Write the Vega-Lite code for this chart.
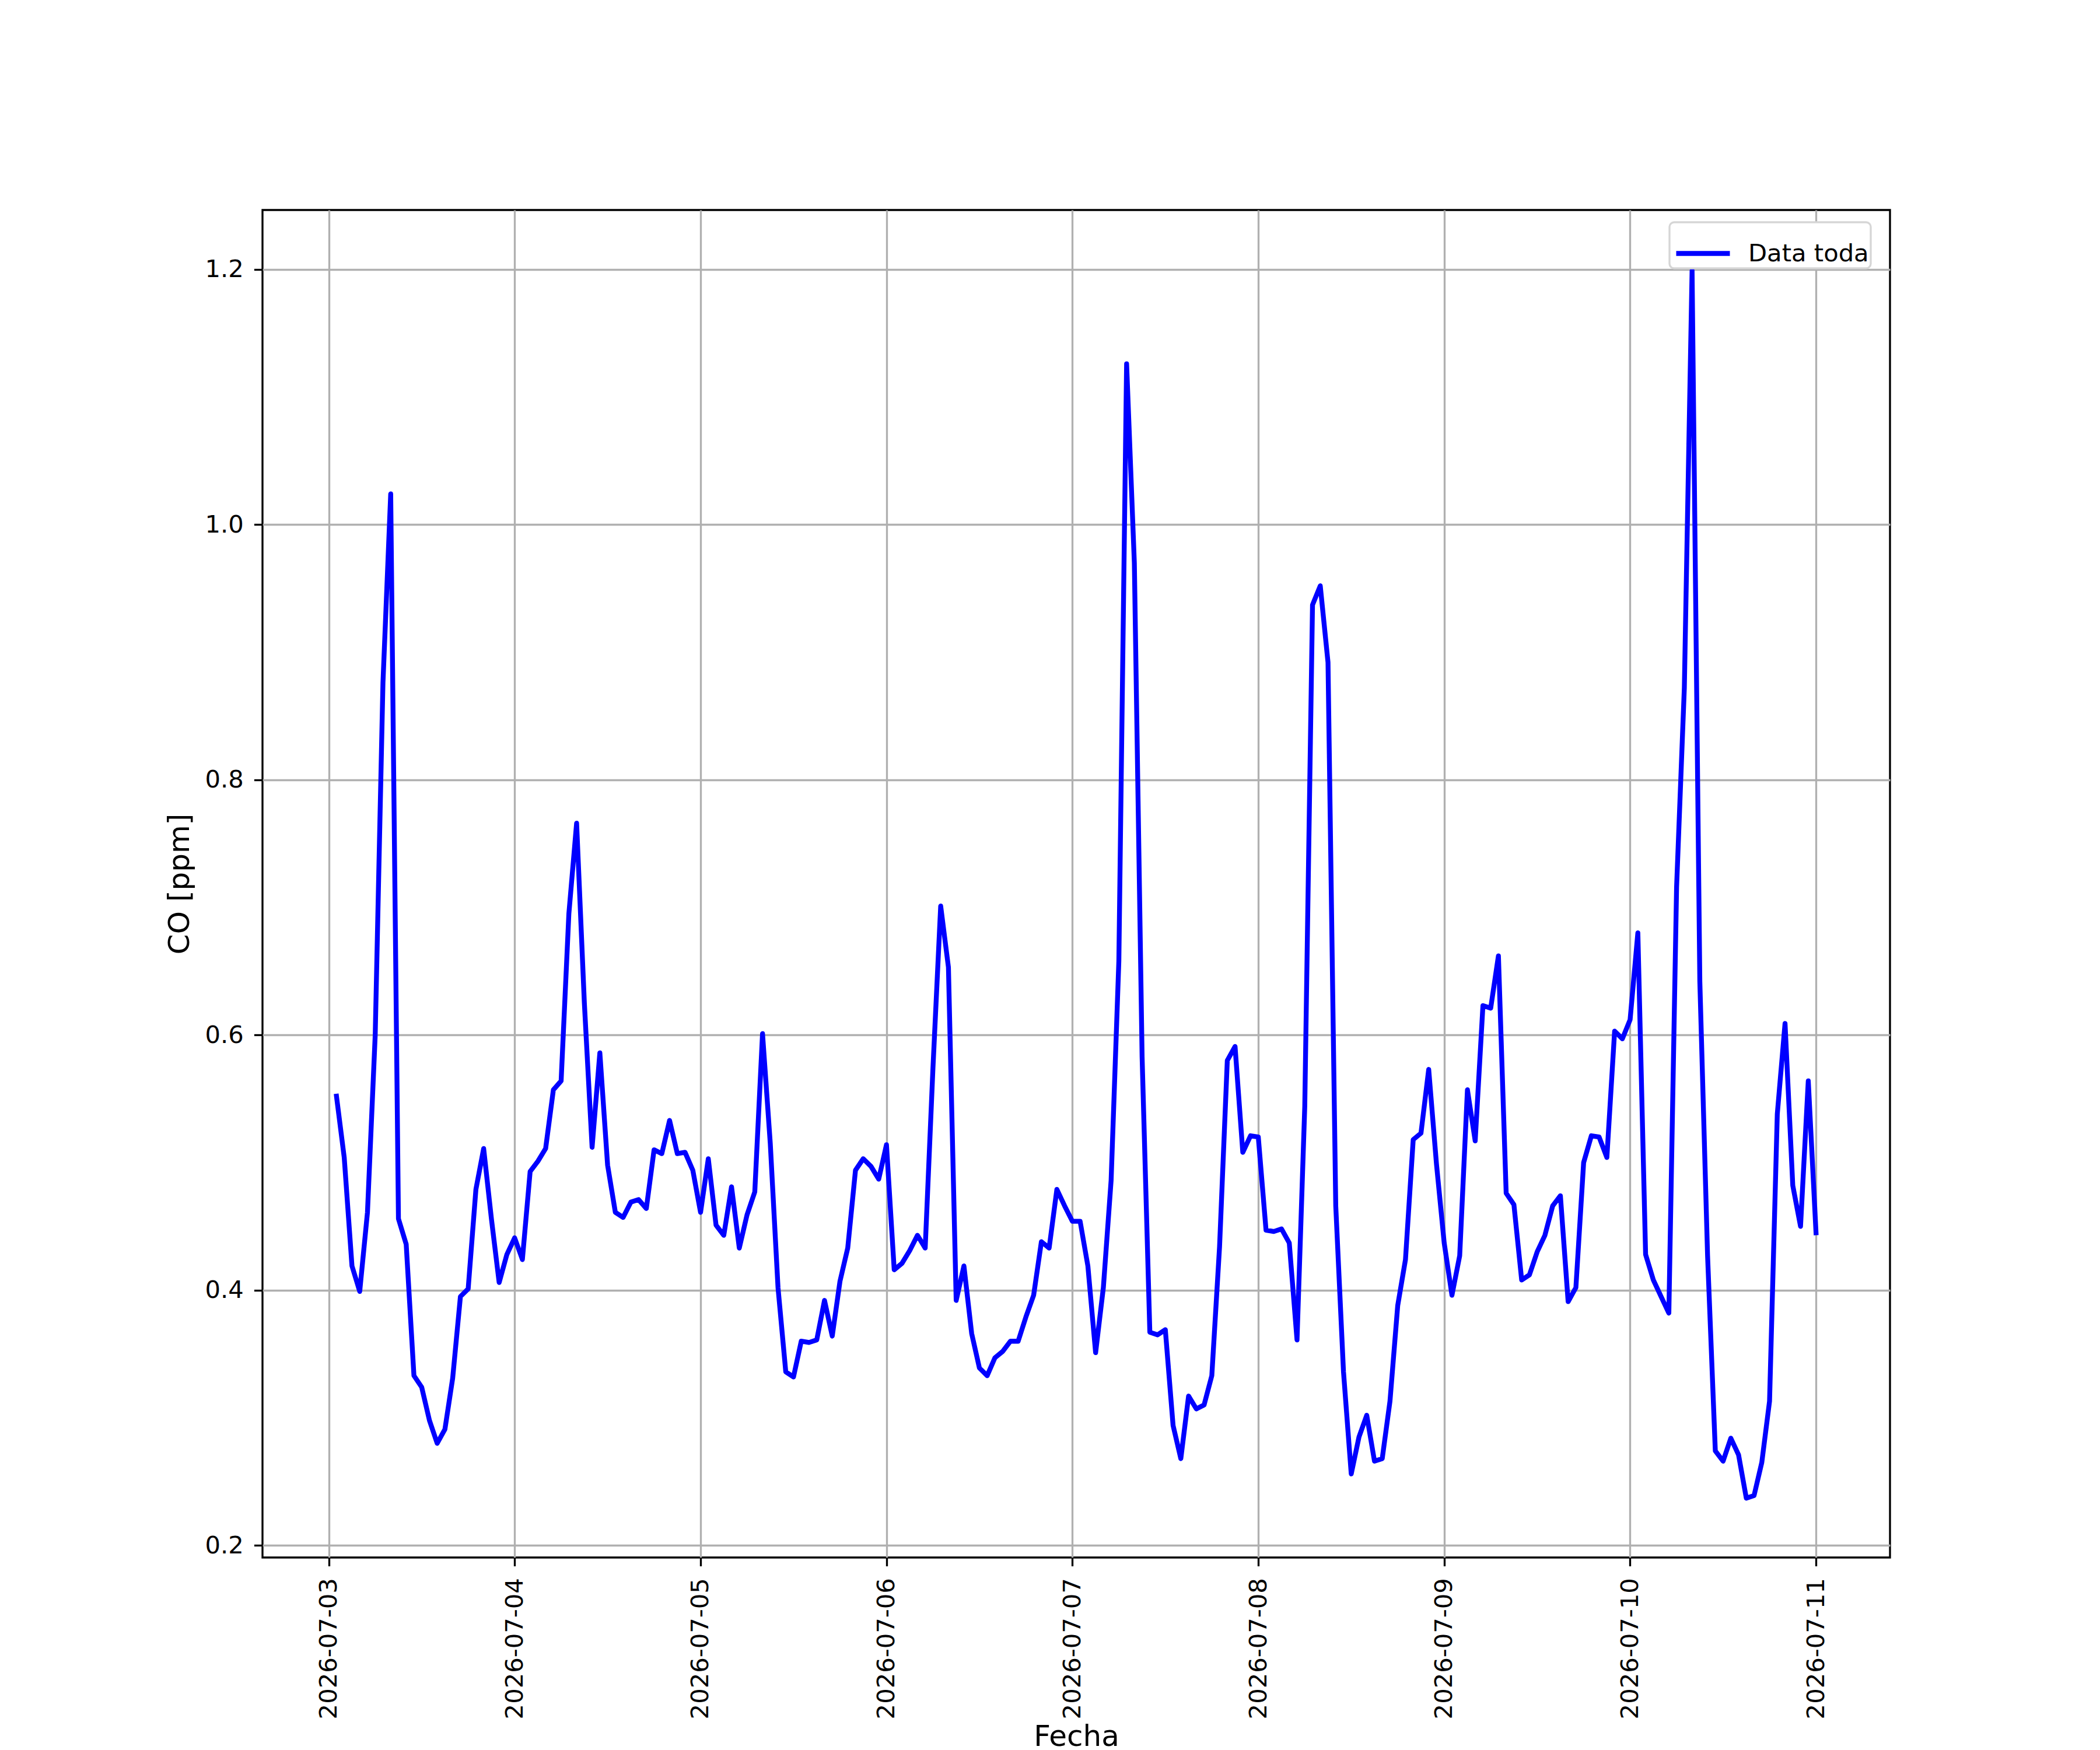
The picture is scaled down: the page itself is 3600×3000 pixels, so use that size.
{
  "$schema": "https://vega.github.io/schema/vega-lite/v6.json",
  "width": 2790,
  "height": 2310,
  "autosize": {"type": "none"},
  "padding": {"left": 450, "top": 360, "right": 360, "bottom": 330},
  "background": "white",
  "config": {
    "view": {"stroke": "black", "strokeWidth": 3.33},
    "axis": {
      "labelFont": "DejaVu Sans",
      "labelFontSize": 41.7,
      "labelColor": "black",
      "labelLimit": 0,
      "titleFont": "DejaVu Sans",
      "titleFontSize": 50,
      "titleFontWeight": "normal",
      "titleColor": "black",
      "tickColor": "black",
      "tickWidth": 3.33,
      "tickSize": 14.6,
      "gridColor": "#b0b0b0",
      "gridWidth": 3.33,
      "grid": true,
      "domain": false,
      "labelOverlap": false,
      "labelFlush": false
    },
    "legend": {
      "title": null,
      "orient": "none",
      "legendX": 2412,
      "legendY": 21,
      "padding": 3,
      "symbolOffset": 4,
      "strokeColor": "#d6d6d6",
      "strokeWidth": 3.33,
      "fillColor": "white",
      "cornerRadius": 8,
      "symbolType": "stroke",
      "symbolSize": 8464,
      "symbolStrokeWidth": 8.33,
      "labelFont": "DejaVu Sans",
      "labelFontSize": 41.7,
      "labelColor": "black",
      "labelLimit": 0,
      "labelOffset": 27
    }
  },
  "data": {
    "values": [
      {"fecha": "2026-07-03T01:00", "co": 0.552},
      {"fecha": "2026-07-03T02:00", "co": 0.504},
      {"fecha": "2026-07-03T03:00", "co": 0.419},
      {"fecha": "2026-07-03T04:00", "co": 0.399},
      {"fecha": "2026-07-03T05:00", "co": 0.461},
      {"fecha": "2026-07-03T06:00", "co": 0.600},
      {"fecha": "2026-07-03T07:00", "co": 0.876},
      {"fecha": "2026-07-03T08:00", "co": 1.024},
      {"fecha": "2026-07-03T09:00", "co": 0.456},
      {"fecha": "2026-07-03T10:00", "co": 0.436},
      {"fecha": "2026-07-03T11:00", "co": 0.333},
      {"fecha": "2026-07-03T12:00", "co": 0.324},
      {"fecha": "2026-07-03T13:00", "co": 0.298},
      {"fecha": "2026-07-03T14:00", "co": 0.280},
      {"fecha": "2026-07-03T15:00", "co": 0.291},
      {"fecha": "2026-07-03T16:00", "co": 0.331},
      {"fecha": "2026-07-03T17:00", "co": 0.395},
      {"fecha": "2026-07-03T18:00", "co": 0.401},
      {"fecha": "2026-07-03T19:00", "co": 0.479},
      {"fecha": "2026-07-03T20:00", "co": 0.511},
      {"fecha": "2026-07-03T21:00", "co": 0.456},
      {"fecha": "2026-07-03T22:00", "co": 0.406},
      {"fecha": "2026-07-03T23:00", "co": 0.428},
      {"fecha": "2026-07-04T00:00", "co": 0.441},
      {"fecha": "2026-07-04T01:00", "co": 0.424},
      {"fecha": "2026-07-04T02:00", "co": 0.493},
      {"fecha": "2026-07-04T03:00", "co": 0.501},
      {"fecha": "2026-07-04T04:00", "co": 0.511},
      {"fecha": "2026-07-04T05:00", "co": 0.557},
      {"fecha": "2026-07-04T06:00", "co": 0.564},
      {"fecha": "2026-07-04T07:00", "co": 0.695},
      {"fecha": "2026-07-04T08:00", "co": 0.766},
      {"fecha": "2026-07-04T09:00", "co": 0.625},
      {"fecha": "2026-07-04T10:00", "co": 0.512},
      {"fecha": "2026-07-04T11:00", "co": 0.586},
      {"fecha": "2026-07-04T12:00", "co": 0.498},
      {"fecha": "2026-07-04T13:00", "co": 0.461},
      {"fecha": "2026-07-04T14:00", "co": 0.457},
      {"fecha": "2026-07-04T15:00", "co": 0.469},
      {"fecha": "2026-07-04T16:00", "co": 0.471},
      {"fecha": "2026-07-04T17:00", "co": 0.464},
      {"fecha": "2026-07-04T18:00", "co": 0.510},
      {"fecha": "2026-07-04T19:00", "co": 0.507},
      {"fecha": "2026-07-04T20:00", "co": 0.533},
      {"fecha": "2026-07-04T21:00", "co": 0.507},
      {"fecha": "2026-07-04T22:00", "co": 0.508},
      {"fecha": "2026-07-04T23:00", "co": 0.494},
      {"fecha": "2026-07-05T00:00", "co": 0.461},
      {"fecha": "2026-07-05T01:00", "co": 0.503},
      {"fecha": "2026-07-05T02:00", "co": 0.451},
      {"fecha": "2026-07-05T03:00", "co": 0.443},
      {"fecha": "2026-07-05T04:00", "co": 0.481},
      {"fecha": "2026-07-05T05:00", "co": 0.433},
      {"fecha": "2026-07-05T06:00", "co": 0.459},
      {"fecha": "2026-07-05T07:00", "co": 0.477},
      {"fecha": "2026-07-05T08:00", "co": 0.601},
      {"fecha": "2026-07-05T09:00", "co": 0.515},
      {"fecha": "2026-07-05T10:00", "co": 0.402},
      {"fecha": "2026-07-05T11:00", "co": 0.336},
      {"fecha": "2026-07-05T12:00", "co": 0.332},
      {"fecha": "2026-07-05T13:00", "co": 0.360},
      {"fecha": "2026-07-05T14:00", "co": 0.359},
      {"fecha": "2026-07-05T15:00", "co": 0.361},
      {"fecha": "2026-07-05T16:00", "co": 0.392},
      {"fecha": "2026-07-05T17:00", "co": 0.364},
      {"fecha": "2026-07-05T18:00", "co": 0.407},
      {"fecha": "2026-07-05T19:00", "co": 0.433},
      {"fecha": "2026-07-05T20:00", "co": 0.494},
      {"fecha": "2026-07-05T21:00", "co": 0.503},
      {"fecha": "2026-07-05T22:00", "co": 0.497},
      {"fecha": "2026-07-05T23:00", "co": 0.487},
      {"fecha": "2026-07-06T00:00", "co": 0.514},
      {"fecha": "2026-07-06T01:00", "co": 0.416},
      {"fecha": "2026-07-06T02:00", "co": 0.421},
      {"fecha": "2026-07-06T03:00", "co": 0.431},
      {"fecha": "2026-07-06T04:00", "co": 0.443},
      {"fecha": "2026-07-06T05:00", "co": 0.433},
      {"fecha": "2026-07-06T06:00", "co": 0.574},
      {"fecha": "2026-07-06T07:00", "co": 0.701},
      {"fecha": "2026-07-06T08:00", "co": 0.653},
      {"fecha": "2026-07-06T09:00", "co": 0.392},
      {"fecha": "2026-07-06T10:00", "co": 0.419},
      {"fecha": "2026-07-06T11:00", "co": 0.366},
      {"fecha": "2026-07-06T12:00", "co": 0.339},
      {"fecha": "2026-07-06T13:00", "co": 0.333},
      {"fecha": "2026-07-06T14:00", "co": 0.347},
      {"fecha": "2026-07-06T15:00", "co": 0.352},
      {"fecha": "2026-07-06T16:00", "co": 0.360},
      {"fecha": "2026-07-06T17:00", "co": 0.360},
      {"fecha": "2026-07-06T18:00", "co": 0.379},
      {"fecha": "2026-07-06T19:00", "co": 0.396},
      {"fecha": "2026-07-06T20:00", "co": 0.438},
      {"fecha": "2026-07-06T21:00", "co": 0.433},
      {"fecha": "2026-07-06T22:00", "co": 0.479},
      {"fecha": "2026-07-06T23:00", "co": 0.466},
      {"fecha": "2026-07-07T00:00", "co": 0.454},
      {"fecha": "2026-07-07T01:00", "co": 0.454},
      {"fecha": "2026-07-07T02:00", "co": 0.419},
      {"fecha": "2026-07-07T03:00", "co": 0.351},
      {"fecha": "2026-07-07T04:00", "co": 0.402},
      {"fecha": "2026-07-07T05:00", "co": 0.486},
      {"fecha": "2026-07-07T06:00", "co": 0.658},
      {"fecha": "2026-07-07T07:00", "co": 1.126},
      {"fecha": "2026-07-07T08:00", "co": 0.970},
      {"fecha": "2026-07-07T09:00", "co": 0.583},
      {"fecha": "2026-07-07T10:00", "co": 0.367},
      {"fecha": "2026-07-07T11:00", "co": 0.365},
      {"fecha": "2026-07-07T12:00", "co": 0.369},
      {"fecha": "2026-07-07T13:00", "co": 0.294},
      {"fecha": "2026-07-07T14:00", "co": 0.268},
      {"fecha": "2026-07-07T15:00", "co": 0.317},
      {"fecha": "2026-07-07T16:00", "co": 0.307},
      {"fecha": "2026-07-07T17:00", "co": 0.310},
      {"fecha": "2026-07-07T18:00", "co": 0.333},
      {"fecha": "2026-07-07T19:00", "co": 0.434},
      {"fecha": "2026-07-07T20:00", "co": 0.580},
      {"fecha": "2026-07-07T21:00", "co": 0.591},
      {"fecha": "2026-07-07T22:00", "co": 0.508},
      {"fecha": "2026-07-07T23:00", "co": 0.521},
      {"fecha": "2026-07-08T00:00", "co": 0.520},
      {"fecha": "2026-07-08T01:00", "co": 0.447},
      {"fecha": "2026-07-08T02:00", "co": 0.446},
      {"fecha": "2026-07-08T03:00", "co": 0.448},
      {"fecha": "2026-07-08T04:00", "co": 0.437},
      {"fecha": "2026-07-08T05:00", "co": 0.361},
      {"fecha": "2026-07-08T06:00", "co": 0.544},
      {"fecha": "2026-07-08T07:00", "co": 0.937},
      {"fecha": "2026-07-08T08:00", "co": 0.952},
      {"fecha": "2026-07-08T09:00", "co": 0.892},
      {"fecha": "2026-07-08T10:00", "co": 0.466},
      {"fecha": "2026-07-08T11:00", "co": 0.336},
      {"fecha": "2026-07-08T12:00", "co": 0.256},
      {"fecha": "2026-07-08T13:00", "co": 0.285},
      {"fecha": "2026-07-08T14:00", "co": 0.302},
      {"fecha": "2026-07-08T15:00", "co": 0.266},
      {"fecha": "2026-07-08T16:00", "co": 0.268},
      {"fecha": "2026-07-08T17:00", "co": 0.313},
      {"fecha": "2026-07-08T18:00", "co": 0.388},
      {"fecha": "2026-07-08T19:00", "co": 0.424},
      {"fecha": "2026-07-08T20:00", "co": 0.518},
      {"fecha": "2026-07-08T21:00", "co": 0.523},
      {"fecha": "2026-07-08T22:00", "co": 0.573},
      {"fecha": "2026-07-08T23:00", "co": 0.499},
      {"fecha": "2026-07-09T00:00", "co": 0.437},
      {"fecha": "2026-07-09T01:00", "co": 0.396},
      {"fecha": "2026-07-09T02:00", "co": 0.427},
      {"fecha": "2026-07-09T03:00", "co": 0.557},
      {"fecha": "2026-07-09T04:00", "co": 0.517},
      {"fecha": "2026-07-09T05:00", "co": 0.623},
      {"fecha": "2026-07-09T06:00", "co": 0.621},
      {"fecha": "2026-07-09T07:00", "co": 0.662},
      {"fecha": "2026-07-09T08:00", "co": 0.476},
      {"fecha": "2026-07-09T09:00", "co": 0.467},
      {"fecha": "2026-07-09T10:00", "co": 0.408},
      {"fecha": "2026-07-09T11:00", "co": 0.412},
      {"fecha": "2026-07-09T12:00", "co": 0.430},
      {"fecha": "2026-07-09T13:00", "co": 0.443},
      {"fecha": "2026-07-09T14:00", "co": 0.466},
      {"fecha": "2026-07-09T15:00", "co": 0.474},
      {"fecha": "2026-07-09T16:00", "co": 0.391},
      {"fecha": "2026-07-09T17:00", "co": 0.402},
      {"fecha": "2026-07-09T18:00", "co": 0.500},
      {"fecha": "2026-07-09T19:00", "co": 0.521},
      {"fecha": "2026-07-09T20:00", "co": 0.520},
      {"fecha": "2026-07-09T21:00", "co": 0.504},
      {"fecha": "2026-07-09T22:00", "co": 0.603},
      {"fecha": "2026-07-09T23:00", "co": 0.597},
      {"fecha": "2026-07-10T00:00", "co": 0.612},
      {"fecha": "2026-07-10T01:00", "co": 0.680},
      {"fecha": "2026-07-10T02:00", "co": 0.428},
      {"fecha": "2026-07-10T03:00", "co": 0.408},
      {"fecha": "2026-07-10T04:00", "co": 0.395},
      {"fecha": "2026-07-10T05:00", "co": 0.382},
      {"fecha": "2026-07-10T06:00", "co": 0.716},
      {"fecha": "2026-07-10T07:00", "co": 0.872},
      {"fecha": "2026-07-10T08:00", "co": 1.199},
      {"fecha": "2026-07-10T09:00", "co": 0.642},
      {"fecha": "2026-07-10T10:00", "co": 0.427},
      {"fecha": "2026-07-10T11:00", "co": 0.274},
      {"fecha": "2026-07-10T12:00", "co": 0.266},
      {"fecha": "2026-07-10T13:00", "co": 0.284},
      {"fecha": "2026-07-10T14:00", "co": 0.271},
      {"fecha": "2026-07-10T15:00", "co": 0.237},
      {"fecha": "2026-07-10T16:00", "co": 0.239},
      {"fecha": "2026-07-10T17:00", "co": 0.265},
      {"fecha": "2026-07-10T18:00", "co": 0.313},
      {"fecha": "2026-07-10T19:00", "co": 0.538},
      {"fecha": "2026-07-10T20:00", "co": 0.609},
      {"fecha": "2026-07-10T21:00", "co": 0.482},
      {"fecha": "2026-07-10T22:00", "co": 0.450},
      {"fecha": "2026-07-10T23:00", "co": 0.564},
      {"fecha": "2026-07-11T00:00", "co": 0.445}
    ]
  },
  "mark": {
    "type": "line",
    "strokeWidth": 8.33,
    "strokeJoin": "round",
    "strokeCap": "square",
    "clip": true
  },
  "encoding": {
    "x": {
      "field": "fecha",
      "type": "temporal",
      "title": "Fecha",
      "scale": {
        "domain": [
          {"year": 2026, "month": 7, "date": 2, "hours": 15, "minutes": 27},
          {"year": 2026, "month": 7, "date": 11, "hours": 9, "minutes": 33}
        ],
        "nice": false
      },
      "axis": {
        "values": [
          {"year": 2026, "month": 7, "date": 3},
          {"year": 2026, "month": 7, "date": 4},
          {"year": 2026, "month": 7, "date": 5},
          {"year": 2026, "month": 7, "date": 6},
          {"year": 2026, "month": 7, "date": 7},
          {"year": 2026, "month": 7, "date": 8},
          {"year": 2026, "month": 7, "date": 9},
          {"year": 2026, "month": 7, "date": 10},
          {"year": 2026, "month": 7, "date": 11}
        ],
        "format": "%Y-%m-%d",
        "labelAngle": -90,
        "labelPadding": 20,
        "titlePadding": 82
      }
    },
    "y": {
      "field": "co",
      "type": "quantitative",
      "title": "CO [ppm]",
      "scale": {"domain": [0.1905, 1.2465], "nice": false, "zero": false},
      "axis": {
        "values": [0.2, 0.4, 0.6, 0.8, 1.0, 1.2],
        "format": ".1f",
        "labelPadding": 18,
        "titlePadding": 18
      }
    },
    "color": {
      "datum": "Data toda",
      "type": "nominal",
      "scale": {"range": ["#0000ff"]},
      "legend": {"title": null}
    }
  }
}
